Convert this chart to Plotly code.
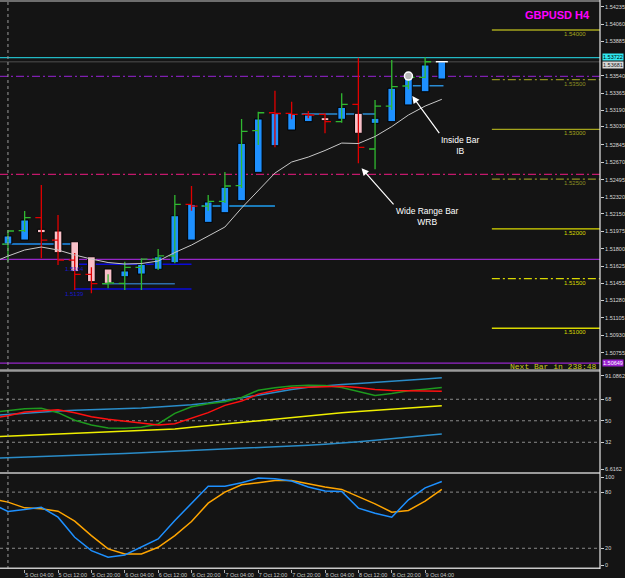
import plotly.graph_objects as go

# ---------------- data ----------------
bar_index = list(range(27))            # H4 bars, 5 Oct 00:00 .. 9 Oct 08:00
ind_index = list(range(-1, 27))        # indicator points (start one bar earlier)

tick_index = [1, 3, 5, 7, 9, 11, 13, 15, 17, 19, 21, 23, 25]
tick_labels = ["5 Oct 04:00", "5 Oct 12:00", "5 Oct 20:00", "6 Oct 04:00", "6 Oct 12:00",
               "6 Oct 20:00", "7 Oct 04:00", "7 Oct 12:00", "7 Oct 20:00", "8 Oct 04:00",
               "8 Oct 12:00", "8 Oct 20:00", "9 Oct 04:00"]

# Heiken Ashi bodies
ha_open = [1.51847, 1.51887, 1.51995, 1.51978, 1.51870, 1.51719, 1.51596, 1.51518, 1.51545, 1.51593,
           1.51659, 1.51887, 1.52065, 1.52162, 1.52283, 1.52568, 1.52836, 1.52994, 1.53078, 1.53118,
           1.53102, 1.53162, 1.53061, 1.53078, 1.53246, 1.53379, 1.53507]
ha_close = [1.51928, 1.52089, 1.51961, 1.51760, 1.51569, 1.51468, 1.51452, 1.51576, 1.51643, 1.51719,
            1.52132, 1.52247, 1.52270, 1.52418, 1.52860, 1.53105, 1.53162, 1.53162, 1.53145, 1.53088,
            1.53222, 1.52961, 1.53112, 1.53414, 1.53537, 1.53648, 1.53681]

# real OHLC bars
bar_open = [1.51847, 1.51981, 1.52112, 1.51887, 1.51686, 1.51542, 1.51448, 1.51452, 1.51613, 1.51696,
            1.51729, 1.52247, 1.52229, 1.52277, 1.52434, 1.52987, 1.53168, 1.53162, 1.53152, 1.53152,
            1.53078, 1.53253, 1.52803, 1.53235, 1.53437, 1.53524, 1.53681]
bar_high = [1.51988, 1.52179, 1.52441, 1.52139, 1.51757, 1.51613, 1.51542, 1.51669, 1.51703, 1.51797,
            1.52340, 1.52431, 1.52340, 1.52571, 1.53105, 1.53178, 1.53389, 1.53279, 1.53185, 1.53162,
            1.53363, 1.53722, 1.53296, 1.53698, 1.53537, 1.53725, 1.53681]
bar_low = [1.51669, 1.51968, 1.51703, 1.51636, 1.51384, 1.51351, 1.51402, 1.51384, 1.51384, 1.51586,
           1.51653, 1.52182, 1.52182, 1.52260, 1.52411, 1.52843, 1.52820, 1.53102, 1.53112, 1.52961,
           1.53067, 1.52659, 1.52599, 1.53195, 1.53403, 1.53514, 1.53681]
bar_close = [1.51978, 1.52112, 1.51887, 1.51686, 1.51542, 1.51448, 1.51455, 1.51613, 1.51696, 1.51729,
             1.52247, 1.52229, 1.52277, 1.52431, 1.52981, 1.53168, 1.53160, 1.53152, 1.53145, 1.53078,
             1.53253, 1.52820, 1.53235, 1.53430, 1.53524, 1.53681, 1.53681]

moving_avg = [1.51656, 1.51726, 1.51787, 1.51817, 1.51787, 1.51737, 1.51696, 1.51661, 1.51646, 1.51651,
              1.51676, 1.51762, 1.51837, 1.51928, 1.52018, 1.52209, 1.52380, 1.52561, 1.52672, 1.52722,
              1.52788, 1.52863, 1.52858, 1.52929, 1.53029, 1.53145, 1.53235, 1.53303]

# middle panel indicator lines
mid_blue_upper = [54.3, 55.4, 56.5, 57.6, 58.2, 58.9, 59.3, 59.5, 60.0, 60.6, 61.5, 62.3, 63.4, 64.8,
                  66.7, 69.2, 71.4, 73.9, 76.2, 78.1, 79.5, 80.3, 81.2, 82.0, 82.8, 83.9, 85.0, 86.1]
mid_blue_lower = [18.5, 19.1, 19.6, 20.2, 20.7, 21.3, 21.8, 22.2, 22.7, 23.2, 23.8, 24.3, 24.9, 25.4,
                  26.0, 26.6, 27.2, 27.9, 28.8, 29.6, 30.4, 31.3, 32.4, 33.8, 34.9, 36.3, 37.6, 39.0]
mid_yellow = [36.5, 37.1, 37.6, 38.2, 38.7, 39.3, 39.9, 40.4, 41.0, 41.5, 42.2, 43.2, 44.6, 46.0,
              47.3, 49.0, 50.4, 51.8, 53.2, 54.5, 55.6, 56.8, 57.7, 58.7, 59.5, 60.6, 61.6, 62.6]
mid_green = [56.8, 58.4, 60.1, 60.4, 56.8, 50.4, 46.5, 44.0, 43.7, 44.6, 47.3, 56.2, 61.8, 64.2,
             65.9, 69.5, 75.6, 77.6, 79.2, 79.8, 79.5, 77.8, 74.2, 71.2, 72.8, 75.1, 76.4, 77.8]
mid_red = [52.1, 54.3, 57.3, 58.4, 59.3, 56.8, 53.4, 51.2, 49.6, 47.6, 46.5, 47.6, 52.1, 56.8,
           62.9, 66.5, 72.3, 75.3, 77.6, 78.1, 78.4, 79.0, 77.8, 76.2, 75.3, 75.1, 75.1, 74.8]

# stochastic
stoch_main = [68.0, 59.3, 61.4, 63.9, 53.2, 31.8, 17.5, 10.4, 12.9, 21.1, 30.0, 49.6, 67.5, 86.4,
              86.4, 90.0, 95.0, 94.3, 91.8, 85.4, 81.1, 80.7, 62.9, 57.5, 53.2, 71.8, 84.6, 91.4]
stoch_signal = [73.0, 69.3, 63.2, 62.1, 59.6, 48.9, 33.6, 19.3, 14.0, 14.0, 21.1, 33.6, 48.6, 68.2,
                80.0, 87.9, 90.0, 92.5, 92.5, 88.9, 85.4, 82.9, 75.4, 67.5, 58.6, 60.4, 70.4, 82.9]

# price axis labels
price_ticks = [1.54235, 1.54060, 1.53885, 1.53540, 1.53365, 1.53190, 1.53030, 1.52845, 1.52670,
               1.52495, 1.52320, 1.52150, 1.51975, 1.51800, 1.51625, 1.51455, 1.51280, 1.51105,
               1.50930, 1.50755]
mid_tick_vals = [87.8, 68, 50, 32, 9.6]
mid_tick_text = ["91.0862", "68", "50", "32", "6.6162"]
mid_levels = [68, 50, 32]
sto_tick_vals = [95.8, 80, 20, 2.1]
sto_tick_text = ["100", "80", "20", "0"]
sto_levels = [80, 20]

# horizontal levels
round_levels = [1.54000, 1.53500, 1.53000, 1.52500, 1.52000, 1.51500, 1.51000]
round_styles = ["solid", "dashdot", "solid", "dashdot", "solid", "dashdot", "solid"]
round_colors = ["#a4a41c", "#8e8e22", "#a4a41c", "#8e8e22", "#d8d800", "#d8d800", "#d8d800"]
round_start = 29.0

full_levels = [1.53722, 1.53681, 1.53534, 1.52548, 1.51693, 1.50649]
full_colors = ["#22b8c4", "#3a3a3a", "#7e1fb0", "#c4186c", "#9626c8", "#9626c8"]
full_dash = ["solid", "solid", "8px,3px,2px,3px", "8px,3px,2px,3px", "solid", "solid"]

# support / resistance segments: (start, end, price, colour)
seg_start = [-0.3, 11.6, 17.6, 24.0, 4.0, 4.0, 5.66]
seg_end = [4.0, 16.0, 22.0, 26.1, 11.0, 11.0, 10.0]
seg_price = [1.51847, 1.52229, 1.53155, 1.53440, 1.51643, 1.51394, 1.51448]
seg_color = ["#1e8ef0", "#1e9ef0", "#2a8cd4", "#2a8cd4", "#0a0ad8", "#0a0ad8", "#2d6ea8"]
seg_labels = ["1.5164", "1.5139"]

# ---------------- figure ----------------
BG = "#141414"
fig = go.Figure()

body_base = [min(o, c) for o, c in zip(ha_open, ha_close)]
body_len = [abs(c - o) for o, c in zip(ha_open, ha_close)]
body_col = ["#1e90ff" if c >= o else "#f8c0c8" for o, c in zip(ha_open, ha_close)]
fig.add_trace(go.Bar(x=bar_index, y=body_len, base=body_base, width=0.46,
                     marker=dict(color=body_col, line=dict(color="black", width=1)),
                     yaxis="y", hoverinfo="skip"))

fig.add_trace(go.Ohlc(x=bar_index[:-1], open=bar_open[:-1], high=bar_high[:-1],
                      low=bar_low[:-1], close=bar_close[:-1], tickwidth=0.36,
                      increasing=dict(line=dict(color="#30b830", width=1.3)),
                      decreasing=dict(line=dict(color="#e00000", width=1.3)),
                      yaxis="y", hoverinfo="skip"))
# current doji bar (white)
fig.add_trace(go.Scatter(x=[bar_index[-1] - 0.36, bar_index[-1] + 0.36],
                         y=[bar_close[-1], bar_close[-1]], mode="lines",
                         line=dict(color="white", width=1.5), yaxis="y", hoverinfo="skip"))

fig.add_trace(go.Scatter(x=ind_index, y=moving_avg, mode="lines",
                         line=dict(color="#c8c8c8", width=1), yaxis="y", hoverinfo="skip"))

# inside bar marker
fig.add_trace(go.Scatter(x=[bar_index[24]], y=[bar_high[24]], mode="markers",
                         marker=dict(symbol="circle", size=8, color="#b8b8b8",
                                     line=dict(color="white", width=1.5)),
                         yaxis="y", hoverinfo="skip"))

for vals, col, w in [(mid_blue_lower, "#2a8cc8", 1.5), (mid_yellow, "#f0f000", 1.5),
                     (mid_blue_upper, "#2a8cc8", 1.5), (mid_green, "#1e9a1e", 1.5),
                     (mid_red, "#ff1010", 1.5)]:
    fig.add_trace(go.Scatter(x=ind_index, y=vals, mode="lines", line=dict(color=col, width=w),
                             yaxis="y2", hoverinfo="skip"))

fig.add_trace(go.Scatter(x=ind_index, y=stoch_signal, mode="lines",
                         line=dict(color="#ffa500", width=1.5), yaxis="y3", hoverinfo="skip"))
fig.add_trace(go.Scatter(x=ind_index, y=stoch_main, mode="lines",
                         line=dict(color="#1e90ff", width=1.5), yaxis="y3", hoverinfo="skip"))

XR = [-0.477, 35.48]
shapes = []
annotations = []

for lv, st, col in zip(round_levels, round_styles, round_colors):
    shapes.append(dict(type="line", xref="x", yref="y", x0=round_start, x1=XR[1], y0=lv, y1=lv,
                       line=dict(color=col, width=1.3,
                                 dash=("8px,3px,2px,3px" if st == "dashdot" else "solid")),
                       layer="below"))
    annotations.append(dict(xref="x", yref="y", x=XR[1] - 1.5, y=lv, yshift=-4, showarrow=False,
                            text=f"{lv:.5f}", xanchor="center", yanchor="middle",
                            font=dict(family="Liberation Sans", size=6, color=col)))

for lv, col, ds in zip(full_levels, full_colors, full_dash):
    shapes.append(dict(type="line", xref="paper", yref="y", x0=0, x1=1, y0=lv, y1=lv,
                       line=dict(color=col, width=1.3, dash=ds), layer="below"))

for s, e, p, col in zip(seg_start, seg_end, seg_price, seg_color):
    shapes.append(dict(type="line", xref="x", yref="y", x0=s, x1=e, y0=p, y1=p,
                       line=dict(color=col, width=1.5), layer="below"))
for txt, p, s in zip(seg_labels, seg_price[4:6], seg_start[4:6]):
    annotations.append(dict(xref="x", yref="y", x=s, y=p, yshift=-5, showarrow=False, text=txt,
                            font=dict(family="Liberation Sans", size=6, color="#1818c8")))

for lv in mid_levels:
    shapes.append(dict(type="line", xref="paper", yref="y2", x0=0, x1=1, y0=lv, y1=lv,
                       line=dict(color="#8a8a8a", width=1, dash="dot"), layer="below"))
for lv in sto_levels:
    shapes.append(dict(type="line", xref="paper", yref="y3", x0=0, x1=1, y0=lv, y1=lv,
                       line=dict(color="#8a8a8a", width=1, dash="dot"), layer="below"))

# vertical separator at first bar
shapes.append(dict(type="line", xref="x", yref="paper", x0=bar_index[0], x1=bar_index[0], y0=0, y1=1,
                   line=dict(color="#9a9a9a", width=1, dash="dot")))

H = 569.0
def py(px):
    return 1 - px / H

for px, col, w in [(1, "#8c8c8c", 1.5), (370.5, "#9a9a9a", 2.5), (473, "#9a9a9a", 2),
                   (568.3, "#c8c8c8", 1.5)]:
    shapes.append(dict(type="line", xref="paper", yref="paper", x0=0, x1=1, y0=py(px), y1=py(px),
                       line=dict(color=col, width=w)))
shapes.append(dict(type="line", xref="paper", yref="paper", x0=1, x1=1, y0=0, y1=1,
                   line=dict(color="#e8e8e8", width=1.2)))

# texts
annotations.append(dict(xref="paper", yref="paper", x=560 / 603, y=py(15), showarrow=False,
                        text="<b>GBPUSD H4</b>", xanchor="center", yanchor="middle",
                        font=dict(family="Liberation Sans", size=11, color="#ff00ff")))
annotations.append(dict(xref="paper", yref="paper", x=511 / 603, y=py(366.5), showarrow=False,
                        text="Next Bar in 238:48", xanchor="left", yanchor="middle",
                        font=dict(family="Liberation Mono", size=8, color="#c8c820")))

annotations.append(dict(xref="x", yref="y", x=24.23, y=1.53336, ax=27, ay=37,
                        text="Inside Bar<br>IB", showarrow=True, arrowhead=2, arrowsize=1.2,
                        arrowwidth=1.2, arrowcolor="white", xanchor="left", yanchor="top",
                        font=dict(family="Liberation Sans", size=8.5, color="white")))
annotations.append(dict(xref="x", yref="y", x=21.19, y=1.52609, ax=32, ay=36,
                        text="Wide Range Bar<br>WRB", showarrow=True, arrowhead=2, arrowsize=1.2,
                        arrowwidth=1.2, arrowcolor="white", xanchor="left", yanchor="top",
                        font=dict(family="Liberation Sans", size=8.5, color="white")))

# highlighted price labels on the right axis
for lv, bg, fc, ys in [(1.53681, "#d8d8d8", "#202020", -3), (1.53722, "#30e8f0", "#000000", 1),
                       (1.50649, "#9a20d0", "#ffffff", 0)]:
    annotations.append(dict(xref="paper", yref="y", x=1.0, y=lv, showarrow=False,
                            text=f"{lv:.5f}", xanchor="left", yanchor="middle", bgcolor=bg,
                            borderpad=0, xshift=2, yshift=ys,
                            font=dict(family="Liberation Sans", size=5.5, color=fc)))

axis_font = dict(family="Liberation Sans", size=5.5, color="#d8d8d8")
fig.update_layout(
    width=625, height=578,
    margin=dict(l=0, r=22, t=0, b=9),
    paper_bgcolor=BG, plot_bgcolor=BG,
    showlegend=False, barmode="overlay",
    xaxis=dict(range=XR, anchor="y3", showgrid=False, zeroline=False,
               rangeslider=dict(visible=False), tickangle=0,
               tickvals=tick_index, ticktext=tick_labels, ticks="outside", ticklen=3,
               tickcolor="#b0b0b0", ticklabelposition="outside right",
               tickfont=dict(family="Liberation Sans", size=5.5, color="#c8c8c8")),
    yaxis=dict(domain=[py(369), 1], range=[1.50590, 1.54302], side="right", anchor="x",
               showgrid=False, zeroline=False, tickvals=price_ticks,
               ticktext=[f"{v:.5f}" for v in price_ticks], ticks="outside", ticklen=3,
               tickcolor="#d0d0d0", tickfont=axis_font),
    yaxis2=dict(domain=[py(473), py(372)], range=[6.281, 90.835], side="right", anchor="x",
                showgrid=False, zeroline=False, tickvals=mid_tick_vals, ticktext=mid_tick_text,
                ticks="outside", ticklen=3, tickcolor="#d0d0d0", tickfont=axis_font),
    yaxis3=dict(domain=[0, py(474)], range=[-2.14, 99.36], side="right", anchor="x",
                showgrid=False, zeroline=False, tickvals=sto_tick_vals, ticktext=sto_tick_text,
                ticks="outside", ticklen=3, tickcolor="#d0d0d0", tickfont=axis_font),
    shapes=shapes, annotations=annotations,
)

fig.write_html("out.html")
